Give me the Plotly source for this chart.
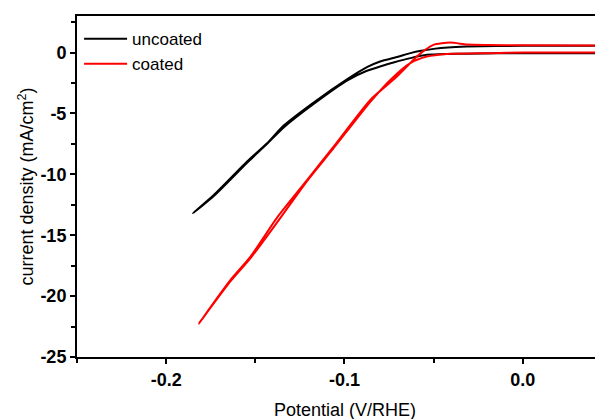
import plotly.graph_objects as go

# uncoated (black) loop: right end -> down along upper branch -> back along lower branch
unc_x = [0.05, 0.0, -0.0314, -0.042, -0.05, -0.057, -0.063, -0.07, -0.08, -0.0874, -0.0986,
         -0.1173, -0.1341, -0.1434, -0.1546, -0.1733, -0.185,
         -0.1733, -0.1546, -0.1434, -0.1341, -0.1173, -0.0986, -0.0874, -0.08, -0.072,
         -0.063, -0.0538, -0.042, -0.0314, -0.015, 0.0, 0.05]
unc_y = [0.55, 0.55, 0.49, 0.42, 0.30, 0.14, -0.05, -0.35, -0.74, -1.2, -2.2,
         -4.1, -6.0, -7.45, -8.95, -11.7, -13.2,
         -11.78, -9.05, -7.5, -6.15, -4.22, -2.3, -1.5, -1.15, -0.8,
         -0.46, -0.19, -0.12, -0.1, -0.06, -0.05, -0.05]

# coated (red) loop
coa_x = [0.05, 0.0, -0.02, -0.0314, -0.0407, -0.0501, -0.055, -0.0594, -0.0706, -0.0855,
         -0.1061, -0.121, -0.1378, -0.1528, -0.164, -0.1817,
         -0.1640, -0.1528, -0.1378, -0.121, -0.1061, -0.0855, -0.0743, -0.0631,
         -0.0538, -0.0426, -0.0183, 0.0, 0.05]
coa_y = [0.58, 0.6, 0.62, 0.66, 0.82, 0.63, 0.2, -0.33, -1.97, -3.89,
         -7.73, -10.47, -13.55, -16.78, -18.69, -22.25,
         -18.8, -16.9, -13.95, -10.55, -7.85, -4.05, -2.25, -0.87,
         -0.33, -0.11, -0.05, 0.0, 0.0]

x_ticks = [-0.2, -0.1, 0.0]
x_tick_text = ["-0.2", "-0.1", "0.0"]
y_ticks = [0, -5, -10, -15, -20, -25]
y_tick_text = ["0", "-5", "-10", "-15", "-20", "-25"]
x_title = "Potential (V/RHE)"
y_title = "current density (mA/cm<sup>2</sup>)"

fig = go.Figure()
fig.add_trace(go.Scatter(x=unc_x, y=unc_y, mode="lines", name="uncoated",
                         line=dict(color="black", width=2, shape="spline", smoothing=0.6)))
fig.add_trace(go.Scatter(x=coa_x, y=coa_y, mode="lines", name="coated",
                         line=dict(color="#ff0000", width=2, shape="spline", smoothing=0.6)))

font = "Liberation Sans, Arial, sans-serif"
fig.update_layout(
    width=587, height=411,
    margin=dict(l=69, r=0, t=8, b=62, autoexpand=False),
    plot_bgcolor="white", paper_bgcolor="white",
    font=dict(family=font, size=18, color="black"),
    showlegend=True,
    legend=dict(x=0.004, y=0.985, xanchor="left", yanchor="top", itemwidth=43,
                bgcolor="rgba(0,0,0,0)", font=dict(size=17), tracegroupgap=0),
    xaxis=dict(range=[-0.25, 0.0405], showgrid=False, zeroline=False, automargin=False,
               showline=True, linecolor="black", linewidth=2, mirror=True,
               ticks="outside", ticklen=5, tickwidth=2, tickcolor="black",
               tickvals=x_ticks, ticktext=x_tick_text,
               tickfont=dict(family=font, size=18, weight="bold"),
               minor=dict(dtick=0.05, tick0=0, ticks="outside", ticklen=4, tickwidth=2, tickcolor="black")),
    yaxis=dict(range=[-25, 3.0], showgrid=False, zeroline=False, automargin=False,
               showline=True, linecolor="black", linewidth=2,
               ticks="outside", ticklen=5, tickwidth=2, tickcolor="black",
               tickvals=y_ticks, ticktext=y_tick_text,
               tickfont=dict(family=font, size=18, weight="bold"),
               minor=dict(dtick=2.5, tick0=0, ticks="outside", ticklen=4, tickwidth=2, tickcolor="black"),
               title=dict(text=y_title, font=dict(size=18), standoff=2)),
    annotations=[dict(text=x_title, xref="paper", yref="paper", x=0.517, y=-0.155,
                      xanchor="center", yanchor="middle", showarrow=False,
                      font=dict(family=font, size=18, color="black"))],
)

fig.write_html("out.html")
